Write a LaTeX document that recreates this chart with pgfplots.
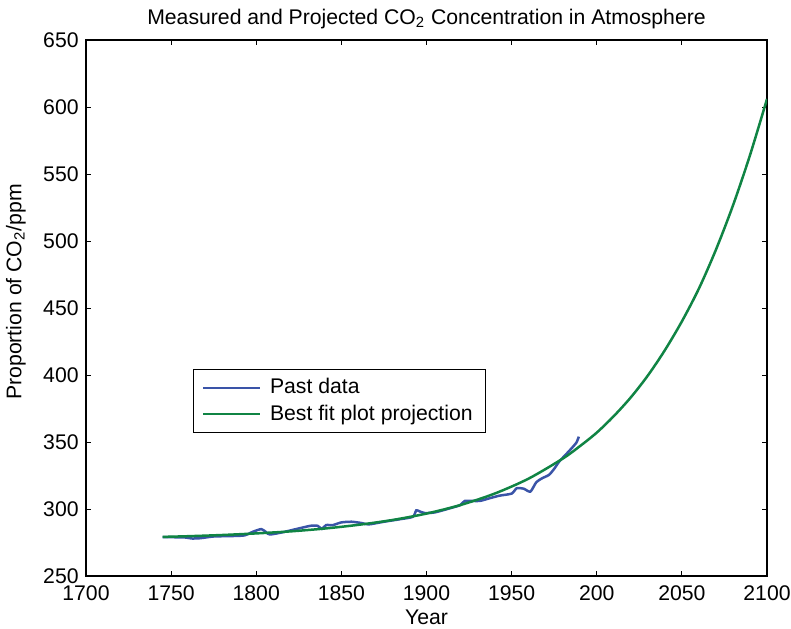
\documentclass[border=0pt]{standalone}
\usepackage{fontspec}
\setmainfont{Liberation Sans}
\usepackage{pgfplots}
\pgfplotsset{compat=1.18}
\definecolor{pastblue}{RGB}{58,84,168}
\definecolor{fitgreen}{RGB}{16,132,68}
\newcommand{\chartfont}{\fontsize{10.6}{12.5}\selectfont}
\begin{document}
\begin{tikzpicture}
\begin{axis}[
  scale only axis,
  width=340.5pt, height=268pt,
  xmin=1700, xmax=2100, ymin=250, ymax=650,
  xtick={1700,1750,1800,1850,1900,1950,2000,2050,2100},
  xticklabels={1700,1750,1800,1850,1900,1950,200,2050,2100},
  ytick={250,300,...,650},
  tick align=inside,
  major tick length=2.5pt,
  tick style={black, line width=0.5pt},
  axis line style={black, line width=0.6pt},
  /pgf/number format/assume math mode=true,
  /pgf/number format/1000 sep={},
  font=\chartfont,
  ticklabel style={font=\chartfont},
  xticklabel style={inner sep=0pt, yshift=-4.6pt},
  yticklabel style={inner sep=0pt, xshift=-3.5pt},
  title={Measured and Projected CO\textsubscript{2} Concentration in Atmosphere},
  title style={at={(axis description cs:0.5,1)}, anchor=south, yshift=-4pt, font=\chartfont},
  xlabel={Year},
  xlabel style={at={(axis description cs:0.5,-0.0765)}, anchor=center},
  ylabel={Proportion of CO\textsubscript{2}/ppm},
  ylabel style={at={(axis description cs:-0.103,0.53)}, anchor=center},
  legend style={at={(axis description cs:0.157,0.386)}, anchor=north west, draw=black, line width=0.5pt,
    font=\chartfont, inner xsep=4.5pt, inner ysep=2.5pt, row sep=0pt, column sep=2.5pt,
    nodes={inner sep=2pt}},
  legend cell align=left,
  legend image code/.code={\draw[#1, line width=0.8pt] (0pt,0pt) -- (28.5pt,0pt);},
]
\coordinate (sw) at (rel axis cs:0,0);
\coordinate (ne) at (rel axis cs:1,1);
\addplot[pastblue, line width=1.25pt, smooth, tension=0.4] coordinates {
(1745,279.0) (1758,278.8) (1762,278.0) (1767,278.2) (1775,279.5) (1785,279.8)
(1793,280.3) (1798,283.0) (1803,285.0) (1806,282.5) (1808,281.0) (1815,282.5)
(1825,285.5) (1832,287.5) (1836,287.5) (1838.5,285.2) (1841,288.0) (1845,288.0)
(1850,290.0) (1856,290.5) (1862,289.5) (1866,288.5) (1875,290.5) (1885,292.5)
(1892,294.2) (1894,299.0) (1896,298.2) (1899,297.0) (1905,297.5) (1915,301.0)
(1920,303.0) (1922.5,306.0) (1931,306.0) (1937,308.0) (1943,310.0) (1950,311.5)
(1953,315.5) (1957,315.2) (1961,313.0) (1964.5,320.0) (1968,323.0) (1972,325.5)
(1975,330.0) (1978,335.5) (1981,339.5) (1985,345.0) (1988,349.5) (1989.5,354.0)
};
\addlegendentry{Past data}
\addplot[fitgreen, line width=1.25pt, smooth] coordinates {
(1745,279.2) (1760,279.7) (1780,280.6) (1800,281.8) (1820,283.3) (1840,285.4)
(1860,288.2) (1880,291.8) (1900,296.6) (1920,303.0) (1940,311.5) (1960,322.7)
(1980,337.6) (1990,346.8) (2000,357.0) (2010,369.3) (2020,383.3) (2030,399.6)
(2040,418.5) (2050,440.0) (2060,464.5) (2070,493.5) (2080,526.5) (2090,564.0)
(2100,606.0)
};
\addlegendentry{Best fit plot projection}
\end{axis}
\pgfresetboundingbox
\useasboundingbox ([shift={(-43pt,-26pt)}]sw) rectangle ([shift={(12pt,20pt)}]ne);
\end{tikzpicture}
\end{document}
